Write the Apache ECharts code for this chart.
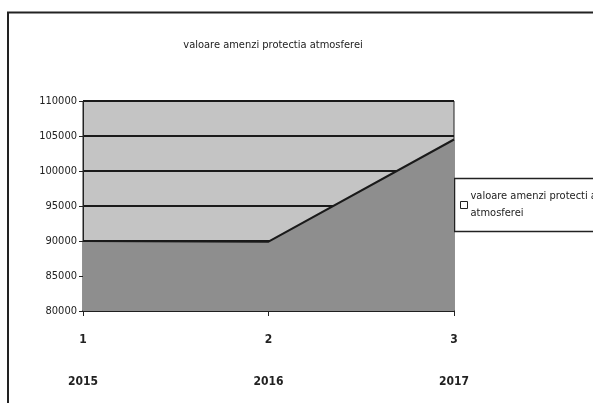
<!DOCTYPE html>
<html>
<head>
<meta charset="utf-8">
<script src="https://cdn.jsdelivr.net/npm/echarts@6/dist/echarts.min.js"></script>
<style>
html,body{margin:0;padding:0;background:#fff;}
#c{width:593px;height:403px;}
</style>
</head>
<body>
<div id="c"></div>
<script>
var titleText = 'valoare amenzi protectia atmosferei';
var seriesName = 'valoare amenzi protectia atmosferei';
var indexLabels = ['1', '2', '3'];
var years = ['2015', '2016', '2017'];
var values = [90000, 89900, 104500];
var yMin = 80000, yMax = 110000, yStep = 5000;

var FONT = "'DejaVu Sans Condensed', 'Liberation Sans Narrow', 'Liberation Sans', sans-serif";
var chart = echarts.init(document.getElementById('c'));
chart.setOption({
  backgroundColor: '#ffffff',
  animation: false,
  title: {
    text: titleText, left: 268, top: 35, textAlign: 'center',
    textStyle: { fontFamily: FONT, fontSize: 11, fontWeight: 'normal', color: '#222' }
  },
  graphic: [
    { type: 'polyline', shape: { points: [[8, 403], [8, 12.5], [593, 12.5]] },
      style: { stroke: '#222', lineWidth: 2, fill: null } },
    { type: 'rect', shape: { x: 454.5, y: 178.5, width: 150, height: 53 },
      style: { stroke: '#222', lineWidth: 1.5, fill: '#fff' }, z: 1 }
  ],
  legend: {
    left: 455, top: 183, orient: 'vertical', z: 5,
    icon: 'rect', itemWidth: 7, itemHeight: 7, itemGap: 4,
    itemStyle: { color: '#fff', borderColor: '#222', borderWidth: 1 },
    formatter: function () { return 'valoare amenzi protecti a\natmosferei'; },
    textStyle: { fontFamily: FONT, fontSize: 11, color: '#222', lineHeight: 17, padding: [0, 0, 0, -2] },
    data: [seriesName]
  },
  grid: { left: 83, right: 139, top: 101, bottom: 92, show: true, backgroundColor: '#c4c4c4', borderColor: '#222', borderWidth: 1 },
  xAxis: {
    type: 'category', data: years, boundaryGap: false,
    axisLine: { lineStyle: { color: '#222', width: 1.5 } },
    axisTick: { show: true, length: 5, lineStyle: { color: '#222' } },
    axisLabel: {
      margin: 18, color: '#222', fontFamily: FONT, fontSize: 12, fontWeight: 'bold',
      lineHeight: 21,
      formatter: function (v, i) { return indexLabels[i] + '\n\n' + v; }
    },
    splitLine: { show: false }
  },
  yAxis: {
    type: 'value', min: yMin, max: yMax, interval: yStep,
    axisLine: { show: true, lineStyle: { color: '#222' } },
    axisTick: { show: true, length: 4, lineStyle: { color: '#222' } },
    axisLabel: { color: '#222', fontFamily: FONT, fontSize: 11, margin: 6,
      formatter: function (v) { return String(v); } },
    splitLine: { show: true, lineStyle: { color: '#1a1a1a', width: 2 } }
  },
  series: [{
    name: seriesName, type: 'line', data: values, symbol: 'none',
    lineStyle: { color: '#1a1a1a', width: 2 },
    itemStyle: { color: '#8e8e8e' },
    areaStyle: { color: '#8e8e8e', opacity: 1, origin: 'start' },
    z: 3
  }]
});
</script>
</body>
</html>
